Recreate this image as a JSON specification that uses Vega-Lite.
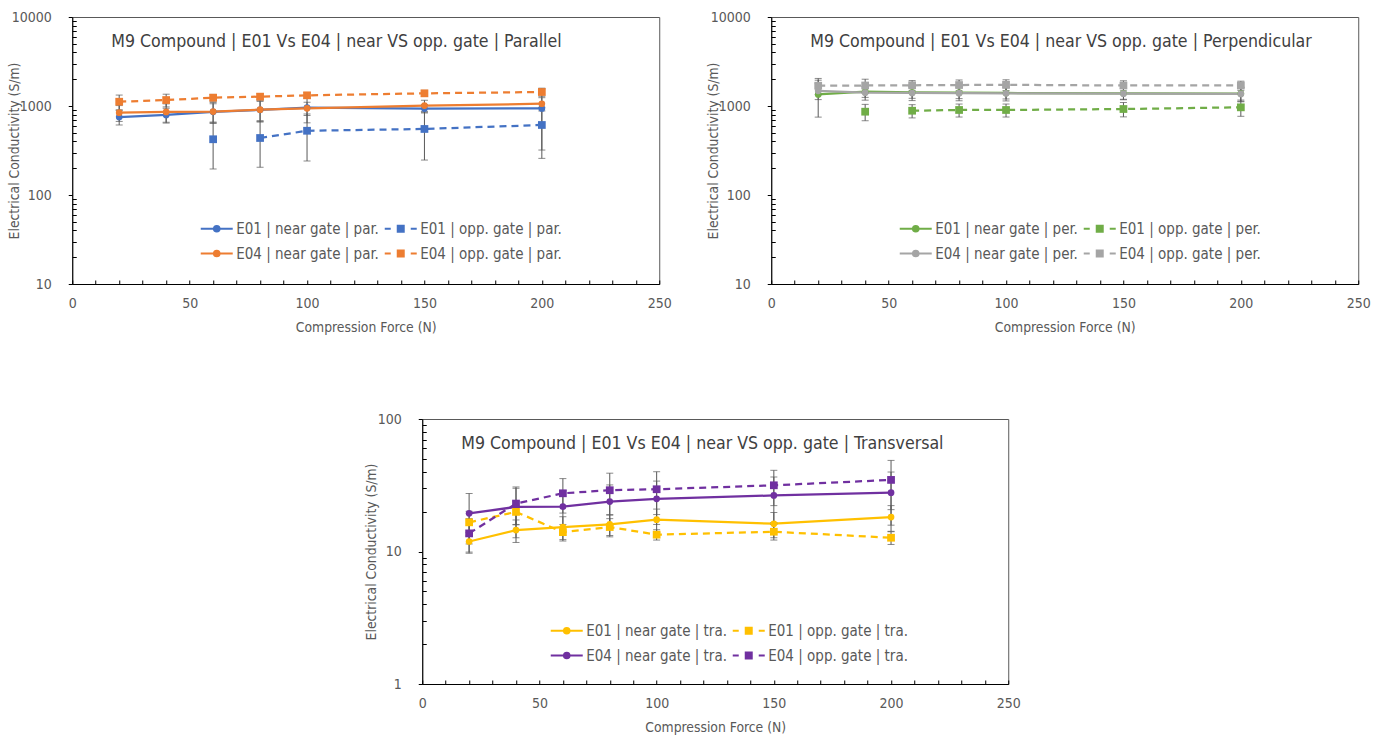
{
  "$schema": "https://vega.github.io/schema/vega-lite/v6.json",
  "background": "white",
  "padding": {"left": 6, "top": 9, "right": 0, "bottom": 0},
  "config": {
    "font": "'DejaVu Sans Condensed', 'Liberation Sans', sans-serif",
    "view": {"stroke": "#595959", "strokeWidth": 1},
    "axis": {"grid": false, "domainColor": "#000000", "tickColor": "#000000", "labelColor": "#595959", "titleColor": "#595959", "labelFontSize": 14, "titleFontSize": 13.8, "titleFontWeight": "normal", "labelOverlap": false, "labelFlush": false, "tickSize": -4, "titleBaseline": "middle"},
    "axisX": {"labelPadding": 16},
    "axisY": {"labelPadding": 17},
    "legend": {"labelFontSize": 15, "labelColor": "#595959", "orient": "none", "direction": "horizontal", "legendX": 137, "legendY": 204, "columns": 2, "symbolSize": 64, "symbolStrokeWidth": 2, "labelOffset": 12, "columnPadding": 1, "rowPadding": 9},
    "title": {"anchor": "start", "frame": "group", "fontSize": 17.6, "fontWeight": "normal", "color": "#404040", "offset": -41, "dx": 39, "baseline": "middle"}
  },
  "datasets": {
    "par": [
      {"F": 20, "sigma": 752, "err": 140, "series": "E01 | near gate | par.", "gate": "near", "run": 1},
      {"F": 40, "sigma": 793, "err": 150, "series": "E01 | near gate | par.", "gate": "near", "run": 1},
      {"F": 60, "sigma": 860, "err": 200, "series": "E01 | near gate | par.", "gate": "near", "run": 1},
      {"F": 80, "sigma": 905, "err": 220, "series": "E01 | near gate | par.", "gate": "near", "run": 1},
      {"F": 100, "sigma": 957, "err": 310, "series": "E01 | near gate | par.", "gate": "near", "run": 1},
      {"F": 150, "sigma": 935, "err": 100, "series": "E01 | near gate | par.", "gate": "near", "run": 1},
      {"F": 200, "sigma": 940, "err": 620, "series": "E01 | near gate | par.", "gate": "near", "run": 1},
      {"F": 60, "sigma": 423, "err": 227, "series": "E01 | opp. gate | par.", "gate": "opp", "run": 1},
      {"F": 80, "sigma": 437, "err": 232, "series": "E01 | opp. gate | par.", "gate": "opp", "run": 2},
      {"F": 100, "sigma": 527, "err": 286, "series": "E01 | opp. gate | par.", "gate": "opp", "run": 2},
      {"F": 150, "sigma": 552, "err": 305, "series": "E01 | opp. gate | par.", "gate": "opp", "run": 2},
      {"F": 200, "sigma": 612, "err": 354, "series": "E01 | opp. gate | par.", "gate": "opp", "run": 2},
      {"F": 20, "sigma": 841, "err": 170, "series": "E04 | near gate | par.", "gate": "near", "run": 1},
      {"F": 40, "sigma": 857, "err": 200, "series": "E04 | near gate | par.", "gate": "near", "run": 1},
      {"F": 60, "sigma": 866, "err": 230, "series": "E04 | near gate | par.", "gate": "near", "run": 1},
      {"F": 80, "sigma": 910, "err": 250, "series": "E04 | near gate | par.", "gate": "near", "run": 1},
      {"F": 100, "sigma": 942, "err": 160, "series": "E04 | near gate | par.", "gate": "near", "run": 1},
      {"F": 150, "sigma": 1010, "err": 150, "series": "E04 | near gate | par.", "gate": "near", "run": 1},
      {"F": 200, "sigma": 1060, "err": 180, "series": "E04 | near gate | par.", "gate": "near", "run": 1},
      {"F": 20, "sigma": 1117, "err": 210, "series": "E04 | opp. gate | par.", "gate": "opp", "run": 1},
      {"F": 40, "sigma": 1167, "err": 190, "series": "E04 | opp. gate | par.", "gate": "opp", "run": 1},
      {"F": 60, "sigma": 1240, "err": 110, "series": "E04 | opp. gate | par.", "gate": "opp", "run": 1},
      {"F": 80, "sigma": 1274, "err": 100, "series": "E04 | opp. gate | par.", "gate": "opp", "run": 1},
      {"F": 100, "sigma": 1318, "err": 100, "series": "E04 | opp. gate | par.", "gate": "opp", "run": 1},
      {"F": 150, "sigma": 1388, "err": 110, "series": "E04 | opp. gate | par.", "gate": "opp", "run": 1},
      {"F": 200, "sigma": 1436, "err": 150, "series": "E04 | opp. gate | par.", "gate": "opp", "run": 1}
    ],
    "per": [
      {"F": 20, "sigma": 1350, "err": 600, "series": "E01 | near gate | per.", "gate": "near", "run": 1},
      {"F": 40, "sigma": 1450, "err": 200, "series": "E01 | near gate | per.", "gate": "near", "run": 1},
      {"F": 60, "sigma": 1420, "err": 200, "series": "E01 | near gate | per.", "gate": "near", "run": 1},
      {"F": 80, "sigma": 1410, "err": 200, "series": "E01 | near gate | per.", "gate": "near", "run": 1},
      {"F": 100, "sigma": 1400, "err": 200, "series": "E01 | near gate | per.", "gate": "near", "run": 1},
      {"F": 150, "sigma": 1390, "err": 200, "series": "E01 | near gate | per.", "gate": "near", "run": 1},
      {"F": 200, "sigma": 1380, "err": 250, "series": "E01 | near gate | per.", "gate": "near", "run": 1},
      {"F": 40, "sigma": 863, "err": 180, "series": "E01 | opp. gate | per.", "gate": "opp", "run": 1},
      {"F": 60, "sigma": 885, "err": 150, "series": "E01 | opp. gate | per.", "gate": "opp", "run": 2},
      {"F": 80, "sigma": 902, "err": 150, "series": "E01 | opp. gate | per.", "gate": "opp", "run": 2},
      {"F": 100, "sigma": 902, "err": 150, "series": "E01 | opp. gate | per.", "gate": "opp", "run": 2},
      {"F": 150, "sigma": 925, "err": 170, "series": "E01 | opp. gate | per.", "gate": "opp", "run": 2},
      {"F": 200, "sigma": 966, "err": 200, "series": "E01 | opp. gate | per.", "gate": "opp", "run": 2},
      {"F": 20, "sigma": 1480, "err": 300, "series": "E04 | near gate | per.", "gate": "near", "run": 1},
      {"F": 40, "sigma": 1413, "err": 250, "series": "E04 | near gate | per.", "gate": "near", "run": 1},
      {"F": 60, "sigma": 1400, "err": 250, "series": "E04 | near gate | per.", "gate": "near", "run": 1},
      {"F": 80, "sigma": 1395, "err": 250, "series": "E04 | near gate | per.", "gate": "near", "run": 1},
      {"F": 100, "sigma": 1390, "err": 250, "series": "E04 | near gate | per.", "gate": "near", "run": 1},
      {"F": 150, "sigma": 1375, "err": 200, "series": "E04 | near gate | per.", "gate": "near", "run": 1},
      {"F": 200, "sigma": 1365, "err": 250, "series": "E04 | near gate | per.", "gate": "near", "run": 1},
      {"F": 20, "sigma": 1690, "err": 350, "series": "E04 | opp. gate | per.", "gate": "opp", "run": 1},
      {"F": 40, "sigma": 1700, "err": 300, "series": "E04 | opp. gate | per.", "gate": "opp", "run": 1},
      {"F": 60, "sigma": 1710, "err": 220, "series": "E04 | opp. gate | per.", "gate": "opp", "run": 1},
      {"F": 80, "sigma": 1720, "err": 240, "series": "E04 | opp. gate | per.", "gate": "opp", "run": 1},
      {"F": 100, "sigma": 1730, "err": 240, "series": "E04 | opp. gate | per.", "gate": "opp", "run": 1},
      {"F": 150, "sigma": 1700, "err": 220, "series": "E04 | opp. gate | per.", "gate": "opp", "run": 1},
      {"F": 200, "sigma": 1700, "err": 200, "series": "E04 | opp. gate | per.", "gate": "opp", "run": 1}
    ],
    "tra": [
      {"F": 20, "sigma": 11.9, "err": 2.0, "series": "E01 | near gate | tra.", "gate": "near", "run": 1},
      {"F": 40, "sigma": 14.5, "err": 2.8, "series": "E01 | near gate | tra.", "gate": "near", "run": 1},
      {"F": 60, "sigma": 15.3, "err": 3.0, "series": "E01 | near gate | tra.", "gate": "near", "run": 1},
      {"F": 80, "sigma": 16.0, "err": 2.8, "series": "E01 | near gate | tra.", "gate": "near", "run": 1},
      {"F": 100, "sigma": 17.4, "err": 3.5, "series": "E01 | near gate | tra.", "gate": "near", "run": 1},
      {"F": 150, "sigma": 16.2, "err": 3.5, "series": "E01 | near gate | tra.", "gate": "near", "run": 1},
      {"F": 200, "sigma": 18.2, "err": 4.0, "series": "E01 | near gate | tra.", "gate": "near", "run": 1},
      {"F": 20, "sigma": 16.6, "err": 3.5, "series": "E01 | opp. gate | tra.", "gate": "opp", "run": 1},
      {"F": 40, "sigma": 19.9, "err": 4.0, "series": "E01 | opp. gate | tra.", "gate": "opp", "run": 1},
      {"F": 60, "sigma": 14.0, "err": 2.0, "series": "E01 | opp. gate | tra.", "gate": "opp", "run": 1},
      {"F": 80, "sigma": 15.3, "err": 2.4, "series": "E01 | opp. gate | tra.", "gate": "opp", "run": 1},
      {"F": 100, "sigma": 13.4, "err": 1.2, "series": "E01 | opp. gate | tra.", "gate": "opp", "run": 1},
      {"F": 150, "sigma": 14.1, "err": 1.9, "series": "E01 | opp. gate | tra.", "gate": "opp", "run": 1},
      {"F": 200, "sigma": 12.7, "err": 1.4, "series": "E01 | opp. gate | tra.", "gate": "opp", "run": 1},
      {"F": 20, "sigma": 19.4, "err": 8.0, "series": "E04 | near gate | tra.", "gate": "near", "run": 1},
      {"F": 40, "sigma": 21.7, "err": 9.0, "series": "E04 | near gate | tra.", "gate": "near", "run": 1},
      {"F": 60, "sigma": 21.8, "err": 7.0, "series": "E04 | near gate | tra.", "gate": "near", "run": 1},
      {"F": 80, "sigma": 23.8, "err": 8.0, "series": "E04 | near gate | tra.", "gate": "near", "run": 1},
      {"F": 100, "sigma": 25.0, "err": 9.0, "series": "E04 | near gate | tra.", "gate": "near", "run": 1},
      {"F": 150, "sigma": 26.5, "err": 10.0, "series": "E04 | near gate | tra.", "gate": "near", "run": 1},
      {"F": 200, "sigma": 27.8, "err": 12.0, "series": "E04 | near gate | tra.", "gate": "near", "run": 1},
      {"F": 20, "sigma": 13.7, "err": 4.0, "series": "E04 | opp. gate | tra.", "gate": "opp", "run": 1},
      {"F": 40, "sigma": 23.0, "err": 7.0, "series": "E04 | opp. gate | tra.", "gate": "opp", "run": 1},
      {"F": 60, "sigma": 27.5, "err": 8.0, "series": "E04 | opp. gate | tra.", "gate": "opp", "run": 1},
      {"F": 80, "sigma": 29.0, "err": 10.0, "series": "E04 | opp. gate | tra.", "gate": "opp", "run": 1},
      {"F": 100, "sigma": 29.5, "err": 10.5, "series": "E04 | opp. gate | tra.", "gate": "opp", "run": 1},
      {"F": 150, "sigma": 31.6, "err": 9.4, "series": "E04 | opp. gate | tra.", "gate": "opp", "run": 1},
      {"F": 200, "sigma": 34.7, "err": 14.0, "series": "E04 | opp. gate | tra.", "gate": "opp", "run": 1}
    ]
  },
  "spacing": 76,
  "center": true,
  "resolve": {"scale": {"color": "independent", "fill": "independent", "stroke": "independent", "shape": "independent"}, "legend": {"color": "independent", "fill": "independent", "stroke": "independent", "shape": "independent"}},
  "vconcat": [
    {
      "spacing": 33,
      "resolve": {"scale": {"color": "independent", "fill": "independent", "stroke": "independent", "shape": "independent"}, "legend": {"color": "independent", "fill": "independent", "stroke": "independent", "shape": "independent"}},
      "hconcat": [
        {
          "width": 587, "height": 267,
          "title": {"text": "M9 Compound  |  E01 Vs E04  |  near VS opp. gate  |  Parallel"},
          "data": {"name": "par"},
          "encoding": {
            "x": {"field": "F", "type": "quantitative", "scale": {"domain": [0, 250], "nice": false, "zero": false}, "axis": {"title": "Compression Force (N)", "titleY": 43, "values": [0,10,20,30,40,50,60,70,80,90,100,110,120,130,140,150,160,170,180,190,200,210,220,230,240,250], "labelExpr": "datum.value % 50 === 0 ? datum.label : ''", "format": "d"}},
            "y": {"field": "sigma", "type": "quantitative", "scale": {"type": "log", "domain": [10, 10000], "nice": false}, "axis": {"title": "Electrical Conductivity (S/m)", "titleX": -58, "values": [10,20,30,40,50,60,70,80,90,100,200,300,400,500,600,700,800,900,1000,2000,3000,4000,5000,6000,7000,8000,9000,10000], "labelExpr": "(datum.value == 10 || datum.value == 100 || datum.value == 1000 || datum.value == 10000) ? datum.label : ''", "format": "d", "tickSize": {"condition": {"test": "datum.value == 10 || datum.value == 100 || datum.value == 1000 || datum.value == 10000", "value": 4}, "value": -4}}}
          },
          "layer": [
            {"transform": [{"filter": "datum.gate === 'near'"}], "mark": {"type": "line", "strokeWidth": 2.25}, "encoding": {"color": {"field": "series", "type": "nominal", "scale": {"range": ["#4472C4", "#4472C4", "#ED7D31", "#ED7D31"]}, "legend": null}}},
            {"transform": [{"filter": "datum.gate === 'opp'"}], "mark": {"type": "line", "strokeWidth": 2.25, "strokeDash": [7, 5]}, "encoding": {"color": {"field": "series", "type": "nominal", "legend": null}, "detail": {"field": "run", "type": "nominal"}}},
            {"mark": {"type": "errorbar", "ticks": {"size": 7}, "color": "#595959", "thickness": 1}, "encoding": {"yError": {"field": "err"}}},
            {"transform": [{"filter": "datum.gate === 'near'"}], "mark": {"type": "point", "shape": "circle", "filled": true, "size": 45, "opacity": 1}, "encoding": {"color": {"field": "series", "type": "nominal", "legend": null}}},
            {"transform": [{"filter": "datum.gate === 'opp'"}], "mark": {"type": "point", "shape": "square", "filled": true, "size": 60, "opacity": 1}, "encoding": {"color": {"field": "series", "type": "nominal", "legend": null}}},
            {"mark": {"type": "point", "filled": true, "strokeWidth": 2, "opacity": 1, "size": 0},
             "encoding": {
               "fill": {"field": "series", "type": "nominal", "scale": {"domain": ["E01 | near gate | par.", "E01 | opp. gate | par.", "E04 | near gate | par.", "E04 | opp. gate | par."], "range": ["#4472C4", "#4472C4", "#ED7D31", "#ED7D31"]}, "legend": {"title": null}},
               "stroke": {"field": "series", "type": "nominal", "scale": {"domain": ["E01 | near gate | par.", "E01 | opp. gate | par.", "E04 | near gate | par.", "E04 | opp. gate | par."], "range": ["#4472C4", "#4472C4", "#ED7D31", "#ED7D31"]}, "legend": {"title": null}},
               "shape": {"field": "series", "type": "nominal", "scale": {"domain": ["E01 | near gate | par.", "E01 | opp. gate | par.", "E04 | near gate | par.", "E04 | opp. gate | par."], "range": ["M-4,0L4,0M0.7,0A0.7,0.7,0,1,1,-0.7,0A0.7,0.7,0,1,1,0.7,0Z", "M-4,0L-2.5,0M2.5,0L4,0M-0.75,-0.75L0.75,-0.75L0.75,0.75L-0.75,0.75Z", "M-4,0L4,0M0.7,0A0.7,0.7,0,1,1,-0.7,0A0.7,0.7,0,1,1,0.7,0Z", "M-4,0L-2.5,0M2.5,0L4,0M-0.75,-0.75L0.75,-0.75L0.75,0.75L-0.75,0.75Z"]}, "legend": {"title": null}}
             }}
          ]
        },
        {
          "width": 587, "height": 267,
          "title": {"text": "M9 Compound  |  E01 Vs E04  |  near VS opp. gate  |  Perpendicular"},
          "data": {"name": "per"},
          "encoding": {
            "x": {"field": "F", "type": "quantitative", "scale": {"domain": [0, 250], "nice": false, "zero": false}, "axis": {"title": "Compression Force (N)", "titleY": 43, "values": [0,10,20,30,40,50,60,70,80,90,100,110,120,130,140,150,160,170,180,190,200,210,220,230,240,250], "labelExpr": "datum.value % 50 === 0 ? datum.label : ''", "format": "d"}},
            "y": {"field": "sigma", "type": "quantitative", "scale": {"type": "log", "domain": [10, 10000], "nice": false}, "axis": {"title": "Electrical Conductivity (S/m)", "titleX": -58, "values": [10,20,30,40,50,60,70,80,90,100,200,300,400,500,600,700,800,900,1000,2000,3000,4000,5000,6000,7000,8000,9000,10000], "labelExpr": "(datum.value == 10 || datum.value == 100 || datum.value == 1000 || datum.value == 10000) ? datum.label : ''", "format": "d", "tickSize": {"condition": {"test": "datum.value == 10 || datum.value == 100 || datum.value == 1000 || datum.value == 10000", "value": 4}, "value": -4}}}
          },
          "layer": [
            {"transform": [{"filter": "datum.gate === 'near'"}], "mark": {"type": "line", "strokeWidth": 2.25}, "encoding": {"color": {"field": "series", "type": "nominal", "scale": {"range": ["#70AD47", "#70AD47", "#A5A5A5", "#A5A5A5"]}, "legend": null}}},
            {"transform": [{"filter": "datum.gate === 'opp'"}], "mark": {"type": "line", "strokeWidth": 2.25, "strokeDash": [7, 5]}, "encoding": {"color": {"field": "series", "type": "nominal", "legend": null}, "detail": {"field": "run", "type": "nominal"}}},
            {"mark": {"type": "errorbar", "ticks": {"size": 7}, "color": "#595959", "thickness": 1}, "encoding": {"yError": {"field": "err"}}},
            {"transform": [{"filter": "datum.gate === 'near'"}], "mark": {"type": "point", "shape": "circle", "filled": true, "size": 45, "opacity": 1}, "encoding": {"color": {"field": "series", "type": "nominal", "legend": null}}},
            {"transform": [{"filter": "datum.gate === 'opp'"}], "mark": {"type": "point", "shape": "square", "filled": true, "size": 60, "opacity": 1}, "encoding": {"color": {"field": "series", "type": "nominal", "legend": null}}},
            {"mark": {"type": "point", "filled": true, "strokeWidth": 2, "opacity": 1, "size": 0},
             "encoding": {
               "fill": {"field": "series", "type": "nominal", "scale": {"domain": ["E01 | near gate | per.", "E01 | opp. gate | per.", "E04 | near gate | per.", "E04 | opp. gate | per."], "range": ["#70AD47", "#70AD47", "#A5A5A5", "#A5A5A5"]}, "legend": {"title": null}},
               "stroke": {"field": "series", "type": "nominal", "scale": {"domain": ["E01 | near gate | per.", "E01 | opp. gate | per.", "E04 | near gate | per.", "E04 | opp. gate | per."], "range": ["#70AD47", "#70AD47", "#A5A5A5", "#A5A5A5"]}, "legend": {"title": null}},
               "shape": {"field": "series", "type": "nominal", "scale": {"domain": ["E01 | near gate | per.", "E01 | opp. gate | per.", "E04 | near gate | per.", "E04 | opp. gate | per."], "range": ["M-4,0L4,0M0.7,0A0.7,0.7,0,1,1,-0.7,0A0.7,0.7,0,1,1,0.7,0Z", "M-4,0L-2.5,0M2.5,0L4,0M-0.75,-0.75L0.75,-0.75L0.75,0.75L-0.75,0.75Z", "M-4,0L4,0M0.7,0A0.7,0.7,0,1,1,-0.7,0A0.7,0.7,0,1,1,0.7,0Z", "M-4,0L-2.5,0M2.5,0L4,0M-0.75,-0.75L0.75,-0.75L0.75,0.75L-0.75,0.75Z"]}, "legend": {"title": null}}
             }}
          ]
        }
      ]
    },
    {
      "width": 586, "height": 265,
      "title": {"text": "M9 Compound  |  E01 Vs E04  |  near VS opp. gate  |  Transversal"},
      "data": {"name": "tra"},
      "encoding": {
        "x": {"field": "F", "type": "quantitative", "scale": {"domain": [0, 250], "nice": false, "zero": false}, "axis": {"title": "Compression Force (N)", "titleY": 43, "values": [0,10,20,30,40,50,60,70,80,90,100,110,120,130,140,150,160,170,180,190,200,210,220,230,240,250], "labelExpr": "datum.value % 50 === 0 ? datum.label : ''", "format": "d"}},
        "y": {"field": "sigma", "type": "quantitative", "scale": {"type": "log", "domain": [1, 100], "nice": false}, "axis": {"title": "Electrical Conductivity (S/m)", "titleX": -51, "values": [1,2,3,4,5,6,7,8,9,10,20,30,40,50,60,70,80,90,100], "labelExpr": "(datum.value == 1 || datum.value == 10 || datum.value == 100) ? datum.label : ''", "format": "d", "tickSize": {"condition": {"test": "datum.value == 1 || datum.value == 10 || datum.value == 100", "value": 4}, "value": -4}}}
      },
      "layer": [
        {"transform": [{"filter": "datum.gate === 'near'"}], "mark": {"type": "line", "strokeWidth": 2.25}, "encoding": {"color": {"field": "series", "type": "nominal", "scale": {"range": ["#FFC000", "#FFC000", "#7030A0", "#7030A0"]}, "legend": null}}},
        {"transform": [{"filter": "datum.gate === 'opp'"}], "mark": {"type": "line", "strokeWidth": 2.25, "strokeDash": [7, 5]}, "encoding": {"color": {"field": "series", "type": "nominal", "legend": null}, "detail": {"field": "run", "type": "nominal"}}},
        {"mark": {"type": "errorbar", "ticks": {"size": 7}, "color": "#595959", "thickness": 1}, "encoding": {"yError": {"field": "err"}}},
        {"transform": [{"filter": "datum.gate === 'near'"}], "mark": {"type": "point", "shape": "circle", "filled": true, "size": 45, "opacity": 1}, "encoding": {"color": {"field": "series", "type": "nominal", "legend": null}}},
        {"transform": [{"filter": "datum.gate === 'opp'"}], "mark": {"type": "point", "shape": "square", "filled": true, "size": 60, "opacity": 1}, "encoding": {"color": {"field": "series", "type": "nominal", "legend": null}}},
        {"mark": {"type": "point", "filled": true, "strokeWidth": 2, "opacity": 1, "size": 0},
         "encoding": {
           "fill": {"field": "series", "type": "nominal", "scale": {"domain": ["E01 | near gate | tra.", "E01 | opp. gate | tra.", "E04 | near gate | tra.", "E04 | opp. gate | tra."], "range": ["#FFC000", "#FFC000", "#7030A0", "#7030A0"]}, "legend": {"title": null}},
           "stroke": {"field": "series", "type": "nominal", "scale": {"domain": ["E01 | near gate | tra.", "E01 | opp. gate | tra.", "E04 | near gate | tra.", "E04 | opp. gate | tra."], "range": ["#FFC000", "#FFC000", "#7030A0", "#7030A0"]}, "legend": {"title": null}},
           "shape": {"field": "series", "type": "nominal", "scale": {"domain": ["E01 | near gate | tra.", "E01 | opp. gate | tra.", "E04 | near gate | tra.", "E04 | opp. gate | tra."], "range": ["M-4,0L4,0M0.7,0A0.7,0.7,0,1,1,-0.7,0A0.7,0.7,0,1,1,0.7,0Z", "M-4,0L-2.5,0M2.5,0L4,0M-0.75,-0.75L0.75,-0.75L0.75,0.75L-0.75,0.75Z", "M-4,0L4,0M0.7,0A0.7,0.7,0,1,1,-0.7,0A0.7,0.7,0,1,1,0.7,0Z", "M-4,0L-2.5,0M2.5,0L4,0M-0.75,-0.75L0.75,-0.75L0.75,0.75L-0.75,0.75Z"]}, "legend": {"title": null}}
         }}
      ]
    }
  ]
}
